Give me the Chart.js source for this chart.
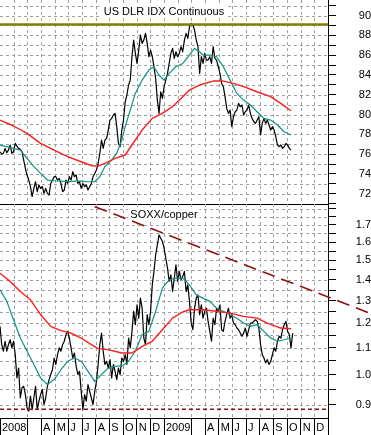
<!DOCTYPE html>
<html>
<head>
<meta charset="utf-8">
<script src="https://cdn.jsdelivr.net/npm/chart.js@4.4.1/dist/chart.umd.min.js"></script>
<style>
  html, body { margin: 0; padding: 0; background: #fff; }
  #wrap { position: relative; width: 371px; height: 435px; overflow: hidden; }
  #dlrChart { position: absolute; left: 0; top: 0; }
  #soxxChart { position: absolute; left: 0; top: 204px; }
</style>
</head>
<body>
<div id="wrap">
  <canvas id="dlrChart" width="371" height="205"></canvas>
  <canvas id="soxxChart" width="371" height="231"></canvas>
</div>
<script>
// x values are months since Jan 1 2008 (0 = Jan 2008, 12 = Jan 2009, 24 = Jan 2010)
const monthTicks = [0,1,2,3,4,5,6,7,8,9,10,11,12,13,14,15,16,17,18,19,20,21,22,23,24];
const monthLabels = ["2008","","","A","M","J","J","A","S","O","N","D",
                     "2009","","","A","M","J","J","A","S","O","N","D",""];

// price samples, one every ~3.8 days starting at month 0
const sampleStep = 0.1238;

// US dollar index, closes
const dlrClose = [
  76.24,76.01,76.07,76.58,76.14,76.41,76.92,76.07,76.24,77.08,76.81,76.58,76.48,76.24,75.40,74.56,
  73.89,73.38,72.71,71.70,72.54,73.21,72.20,72.88,72.54,72.71,72.03,72.54,72.03,71.87,73.04,73.38,
  73.72,73.72,73.38,73.55,73.04,72.20,72.37,73.38,73.04,73.72,73.38,74.22,73.72,73.89,73.04,73.21,
  72.54,73.04,72.71,72.88,72.37,72.71,73.04,73.72,74.05,74.39,75.06,76.07,77.42,76.58,77.42,77.59,
  78.43,79.44,79.61,79.95,80.11,78.77,77.08,76.75,78.43,79.44,81.29,81.97,82.98,83.48,85.84,87.52,
  86.18,85.16,86.51,88.03,87.19,87.52,88.20,87.19,85.84,86.51,85.84,84.83,83.65,81.46,80.11,82.30,
  81.63,82.81,83.48,84.15,85.16,86.18,86.68,85.67,86.34,85.84,86.18,86.85,86.34,87.52,88.20,87.69,
  88.87,89.21,89.04,88.53,87.52,86.85,84.15,85.84,85.16,86.18,85.50,85.50,85.84,85.16,86.85,85.67,
  85.50,84.83,84.15,83.14,82.81,81.80,80.62,80.11,80.45,78.77,79.78,80.28,80.45,81.12,80.79,80.96,
  79.95,80.28,80.45,80.96,80.11,79.61,79.27,79.10,79.44,79.78,77.93,79.10,79.61,79.10,79.44,78.94,
  78.43,78.77,78.43,77.76,76.92,76.75,76.92,76.58,76.75,77.08,76.92,76.58,76.41
];
// short moving average (teal)
const dlrShortX = [0,0.50,0.99,1.49,1.98,2.48,2.97,3.47,3.96,4.46,4.95,5.45,5.94,6.44,6.93,7.30,7.67,8.17,
  8.54,8.91,9.16,9.53,9.90,10.40,10.89,11.26,11.63,12.00,12.38,12.87,13.37,13.86,14.23,14.60,14.85,15.35,
  15.84,16.34,16.83,17.33,17.82,18.32,18.81,19.31,19.80,20.30,20.79,21.29];
const dlrShort = [76.92,76.75,76.58,76.41,75.57,74.73,74.05,73.38,73.31,73.28,73.21,73.28,73.28,73.21,73.21,
  73.72,74.73,75.40,76.07,77.42,78.77,80.45,82.13,83.48,84.49,84.83,83.99,83.48,84.15,84.83,85.16,86.01,
  86.68,86.34,86.01,86.01,85.84,84.83,83.48,82.13,81.46,80.96,80.28,79.61,79.44,78.94,78.26,77.93];
// long moving average (red)
const dlrLongX = [0,0.99,1.98,2.97,3.96,4.95,5.94,6.68,7.18,7.67,8.42,9.16,9.65,10.40,11.14,11.88,12.62,
  13.37,13.86,14.60,15.59,16.34,17.08,17.82,18.81,19.80,20.54,21.29];
const dlrLong = [79.44,78.84,78.09,77.08,76.41,75.74,75.23,74.83,74.79,75.06,75.57,75.91,76.92,78.43,79.61,
  80.11,80.79,81.80,82.47,82.98,83.38,83.38,83.14,82.81,82.30,81.80,81.12,80.38];
const dlrResistance = 89.1;

// SOXX / copper ratio
const soxxClose = [
  1.187,1.113,1.087,1.126,1.087,1.113,1.132,1.100,1.126,1.074,0.989,1.024,0.921,0.955,0.960,0.932,
  0.889,0.879,0.927,0.884,0.921,0.960,0.884,0.911,0.932,0.949,0.900,0.921,0.960,0.983,1.001,1.018,
  1.061,1.037,1.074,1.100,1.087,1.113,1.126,1.153,1.166,1.139,1.100,1.061,1.080,1.031,1.001,1.012,
  0.943,0.884,0.932,0.911,0.966,0.943,0.921,0.900,0.943,0.977,1.037,1.113,1.159,1.087,1.037,1.049,
  1.024,1.055,0.989,1.037,1.012,0.983,1.024,1.001,1.061,1.049,1.074,1.037,1.139,1.100,1.166,1.252,
  1.194,1.281,1.222,1.312,1.266,1.139,1.113,1.237,1.194,1.252,1.375,1.442,1.529,1.584,1.641,1.622,
  1.603,1.566,1.511,1.459,1.392,1.425,1.343,1.408,1.476,1.392,1.442,1.400,1.416,1.442,1.343,1.375,
  1.297,1.201,1.173,1.266,1.312,1.327,1.237,1.281,1.222,1.252,1.266,1.208,1.166,1.126,1.222,1.194,
  1.266,1.252,1.281,1.173,1.166,1.208,1.237,1.266,1.222,1.237,1.201,1.194,1.180,1.173,1.159,1.146,
  1.159,1.180,1.146,1.173,1.201,1.201,1.208,1.215,1.208,1.180,1.113,1.074,1.061,1.043,1.055,1.037,
  1.049,1.074,1.100,1.087,1.126,1.146,1.139,1.173,1.194,1.208,1.166,1.153,1.100,1.159
];
const soxxShortX = [0,0.50,0.99,1.49,1.98,2.48,2.97,3.47,3.96,4.46,4.95,5.45,5.94,6.44,6.93,7.43,7.92,8.42,
  8.91,9.41,9.90,10.40,10.89,11.39,11.88,12.38,12.87,13.37,13.86,14.36,14.85,15.35,15.84,16.34,16.83,17.33,
  17.82,18.32,18.81,19.31,19.80,20.30,20.79,21.29];
const soxxShort = [1.351,1.297,1.215,1.139,1.087,1.037,0.989,0.966,0.983,1.018,1.049,1.061,1.049,1.012,0.977,
  1.001,1.024,1.031,1.031,1.049,1.087,1.153,1.166,1.252,1.359,1.400,1.408,1.408,1.375,1.327,1.312,1.297,
  1.266,1.252,1.237,1.222,1.201,1.187,1.194,1.166,1.139,1.126,1.132,1.139];
const soxxLongX = [0,0.74,1.49,2.23,2.97,3.71,4.46,5.20,5.94,6.68,7.18,7.92,8.91,9.65,10.40,11.14,11.88,
  12.62,13.37,13.86,14.85,15.84,16.83,17.82,18.81,19.55,20.54,21.29];
const soxxLong = [1.433,1.392,1.343,1.304,1.237,1.187,1.169,1.159,1.139,1.113,1.097,1.093,1.080,1.080,1.106,
  1.126,1.173,1.222,1.249,1.259,1.259,1.252,1.244,1.230,1.222,1.201,1.180,1.177];
const soxxSupport = 0.885;
const soxxTrendX = [6.93, 27.56];
const soxxTrendY = [1.814, 1.232];

const gridGray = "#a0a0a0";
const tickFont = { family: '"Liberation Sans", Arial, sans-serif', size: 11 };

function toPoints(xs, ys) {
  return ys.map((y, i) => ({ x: xs[i], y: y }));
}
function sampled(ys) {
  return ys.map((y, i) => ({ x: i * sampleStep, y: y }));
}
// no extra room for half-labels at the ends of the axes
function noEdgePadding(s) {
  s.paddingTop = 0;
  s.paddingBottom = 0;
  s.paddingLeft = 0;
  s.paddingRight = 0;
}

// dashed grid at every tick, drawn first so the axis lines stay solid
const dashedGrid = {
  id: "dashedGrid",
  beforeDraw(chart) {
    const { ctx, chartArea: a, scales } = chart;
    ctx.save();
    ctx.strokeStyle = gridGray;
    ctx.lineWidth = 1;
    ctx.setLineDash([3, 3]);
    ctx.beginPath();
    scales.x.ticks.forEach(t => {
      const px = Math.round(scales.x.getPixelForValue(t.value)) + 0.5;
      if (px < a.left + 1 || px > a.right - 1) return;
      ctx.moveTo(px, a.top);
      ctx.lineTo(px, a.bottom);
    });
    scales.y.ticks.forEach(t => {
      const py = Math.round(scales.y.getPixelForValue(t.value)) + 0.5;
      if (py < a.top + 1 || py > a.bottom - 1) return;
      ctx.moveTo(a.left, py);
      ctx.lineTo(a.right, py);
    });
    ctx.stroke();
    ctx.restore();
  }
};

// panel title on a white patch
const panelTitle = {
  id: "panelTitle",
  beforeDatasetsDraw(chart, args, opts) {
    const { ctx, chartArea: a } = chart;
    ctx.save();
    ctx.font = '11px "Liberation Sans", Arial, sans-serif';
    ctx.textAlign = "center";
    ctx.textBaseline = "middle";
    const w = ctx.measureText(opts.text).width;
    const cx = (a.left + a.right) / 2;
    const cy = a.top + opts.offset;
    ctx.fillStyle = "#fff";
    ctx.fillRect(cx - w / 2 - 2, cy - 6, w + 4, 12);
    ctx.fillStyle = "#000";
    ctx.fillText(opts.text, cx, cy);
    ctx.restore();
  }
};

function yAxis(min, max, type, tickValues, showLabel) {
  return {
    type: type,
    position: "right",
    min: min,
    max: max,
    afterBuildTicks: s => { s.ticks = tickValues.map(v => ({ value: v })); },
    afterFit: s => { s.width = 43; noEdgePadding(s); },
    ticks: {
      autoSkip: false,
      font: tickFont,
      color: "#000",
      crossAlign: "far",
      callback: v => showLabel(v)
    },
    grid: { drawOnChartArea: false, color: "#000", tickColor: "#000", tickLength: 8 },
    border: { display: true, color: "#000", width: 1 }
  };
}

const dlrTicks = [71,72,73,74,75,76,77,78,79,80,81,82,83,84,85,86,87,88,89,90,91];
const dlrLabels = [72,74,76,78,80,82,84,86,88,90];
const soxxTicks = [0.9,0.95,1.0,1.05,1.1,1.15,1.2,1.25,1.3,1.35,1.4,1.45,1.5,1.55,1.6,1.65,1.7,1.75,1.8];
const soxxLabels = [0.9,1.0,1.1,1.2,1.3,1.4,1.5,1.6,1.7];

const lineBase = { pointRadius: 0, borderJoinStyle: "round", tension: 0, fill: false };

new Chart(document.getElementById("dlrChart"), {
  type: "line",
  data: {
    datasets: [
      { ...lineBase, data: [{ x: 0, y: dlrResistance }, { x: 24, y: dlrResistance }], borderColor: "#808000", borderWidth: 2.5 },
      { ...lineBase, data: toPoints(dlrLongX, dlrLong), borderColor: "#ff1c1c", borderWidth: 1.4 },
      { ...lineBase, data: toPoints(dlrShortX, dlrShort), borderColor: "#109282", borderWidth: 1.2 },
      { ...lineBase, data: sampled(dlrClose), borderColor: "#000", borderWidth: 1.2 }
    ]
  },
  options: {
    responsive: false,
    animation: false,
    layout: { padding: 0 },
    plugins: { legend: { display: false }, tooltip: { enabled: false },
               panelTitle: { text: "US DLR IDX Continuous", offset: 11.5 } },
    scales: {
      x: {
        type: "linear", min: 0, max: 24,
        afterBuildTicks: s => { s.ticks = monthTicks.map(v => ({ value: v })); },
        afterFit: s => { s.height = 1; noEdgePadding(s); },
        ticks: { display: false, autoSkip: false },
        grid: { drawOnChartArea: false, drawTicks: false },
        border: { display: true, color: "#000", width: 1 }
      },
      y: yAxis(70.96, 91.57, "linear", dlrTicks, v => (dlrLabels.includes(v) ? String(v) : ""))
    }
  },
  plugins: [dashedGrid, panelTitle]
});

new Chart(document.getElementById("soxxChart"), {
  type: "line",
  data: {
    datasets: [
      { ...lineBase, data: toPoints(soxxTrendX, soxxTrendY), borderColor: "#8e1212", borderWidth: 1.6, borderDash: [13, 7], clip: false },
      { ...lineBase, data: [{ x: 0, y: soxxSupport }, { x: 24, y: soxxSupport }], borderColor: "#8e1212", borderWidth: 1.3, borderDash: [4, 3] },
      { ...lineBase, data: toPoints(soxxLongX, soxxLong), borderColor: "#ff1c1c", borderWidth: 1.4 },
      { ...lineBase, data: toPoints(soxxShortX, soxxShort), borderColor: "#109282", borderWidth: 1.2 },
      { ...lineBase, data: sampled(soxxClose), borderColor: "#000", borderWidth: 1.2 }
    ]
  },
  options: {
    responsive: false,
    animation: false,
    layout: { padding: 0 },
    plugins: { legend: { display: false }, tooltip: { enabled: false },
               panelTitle: { text: "SOXX/copper", offset: 11 } },
    scales: {
      x: {
        type: "linear", min: 0, max: 24, position: "bottom",
        afterBuildTicks: s => { s.ticks = monthTicks.map(v => ({ value: v })); },
        afterFit: s => { s.height = 17; noEdgePadding(s); },
        ticks: {
          autoSkip: false, maxRotation: 0, minRotation: 0,
          align: "start", labelOffset: 2, padding: -13.5,
          font: tickFont, color: "#000",
          callback: (v, i) => monthLabels[i]
        },
        grid: {
          drawOnChartArea: false,
          color: "#000",
          tickColor: c => (c.tick && (c.tick.value === 1 || c.tick.value === 13) ? "rgba(0,0,0,0)" : "#000"),
          tickLength: 17
        },
        border: { display: true, color: "#000", width: 1 }
      },
      y: yAxis(0.858, 1.831, "logarithmic", soxxTicks,
               v => (soxxLabels.some(l => Math.abs(l - v) < 1e-6) ? v.toFixed(1) : ""))
    }
  },
  plugins: [dashedGrid, panelTitle]
});
</script>
</body>
</html>
